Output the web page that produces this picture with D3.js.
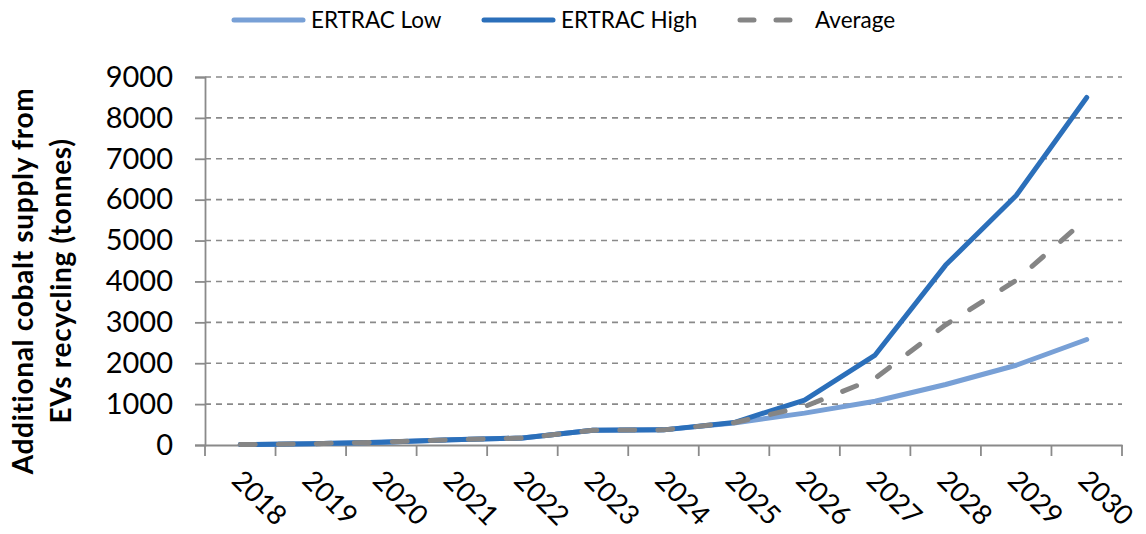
<!DOCTYPE html>
<html><head><meta charset="utf-8">
<script src="https://cdn.jsdelivr.net/npm/d3@7"></script>
<style>
body{margin:0;background:#fff;}
svg{display:block;font-family:Lato,"Open Sans",sans-serif;}
</style></head>
<body><svg id="chart" width="1146" height="534"></svg>
<script>
const years = ["2018","2019","2020","2021","2022","2023","2024","2025","2026","2027","2028","2029","2030"];
const ertracLow  = [10, 30, 70, 130, 170, 360, 370, 540, 780, 1070, 1480, 1950, 2580];
const ertracHigh = [10, 30, 70, 130, 170, 360, 370, 550, 1100, 2200, 4400, 6100, 8500];
const average    = [10, 30, 70, 130, 170, 360, 370, 545, 940, 1630, 2940, 4030, 5540];
const yTicks = [0,1000,2000,3000,4000,5000,6000,7000,8000,9000];
const seriesNames = ["ERTRAC Low","ERTRAC High","Average"];
const colors = {"ERTRAC Low":"#78a0d6","ERTRAC High":"#2b6fba","Average":"#858585"};

const svg = d3.select("#chart");
const L=205, R=1122, T=77, B=445;
const x = d3.scaleBand().domain(years).range([L,R]).padding(0);
const y = d3.scaleLinear().domain([0,9000]).range([B,T]);
const cx = d => x(d)+x.bandwidth()/2;
const axisColor="#8a8a8a";

// gridlines
svg.append("g").selectAll("line").data(yTicks.filter(v=>v>0)).join("line")
  .attr("x1",L).attr("x2",R).attr("y1",d=>y(d)).attr("y2",d=>y(d))
  .attr("stroke",axisColor).attr("stroke-width",1.6).attr("stroke-dasharray","6,5");

// y axis
const ya = svg.append("g").attr("transform",`translate(${L},0)`)
  .call(d3.axisLeft(y).tickValues(yTicks).tickSize(10).tickPadding(22).tickFormat(d3.format("d")));
ya.select(".domain").attr("stroke",axisColor).attr("stroke-width",1.8);
ya.selectAll(".tick line").attr("stroke",axisColor).attr("stroke-width",1.8);
ya.selectAll(".tick text").attr("font-size",29).attr("fill","#000").attr("font-family","Lato");

// x axis
const xa = svg.append("g").attr("transform",`translate(0,${B})`)
  .call(d3.axisBottom(x).tickSize(0).tickFormat(""));
xa.select(".domain").attr("stroke",axisColor).attr("stroke-width",1.8);
const bounds = years.map(d=>x(d)).concat([x.range()[1]]);
svg.append("g").selectAll("line").data(bounds).join("line")
  .attr("x1",d=>d).attr("x2",d=>d).attr("y1",B).attr("y2",B+11)
  .attr("stroke",axisColor).attr("stroke-width",1.8);
svg.append("g").selectAll("text").data(years).join("text")
  .attr("transform",d=>`translate(${cx(d)-10},${B+37}) rotate(45)`)
  .attr("font-size",27.5).attr("fill","#000").text(d=>d);

// lines
const line = d3.line().x((d,i)=>cx(years[i])).y(d=>y(d));
const data = [["ERTRAC Low",ertracLow],["ERTRAC High",ertracHigh],["Average",average]];
data.forEach(([name,vals])=>{
  svg.append("path").datum(vals).attr("d",line).attr("fill","none")
    .attr("stroke",colors[name]).attr("stroke-width",5)
    .attr("stroke-linejoin","round").attr("stroke-linecap","round")
    .attr("stroke-dasharray",name==="Average"?"15,23":null);
});

// legend
const legendX = {"ERTRAC Low":234,"ERTRAC High":484,"Average":740};
seriesNames.forEach(n=>{
  const g = svg.append("g").attr("transform",`translate(${legendX[n]},20)`);
  g.append("line").attr("x1",0).attr("x2",n==="Average"?60:69).attr("y1",0).attr("y2",0)
   .attr("stroke",colors[n]).attr("stroke-width",5).attr("stroke-linecap","round")
   .attr("stroke-dasharray",n==="Average"?"14,22":null);
  g.append("text").attr("x",n==="Average"?75:77).attr("y",8).attr("font-size",22.5).attr("fill","#000").text(n);
});

// y title
const yt = svg.append("text").attr("transform",`translate(0,281) rotate(-90)`)
  .attr("text-anchor","middle").attr("font-weight","bold").attr("font-size",28)
  .attr("letter-spacing",0.7).attr("fill","#000");
yt.append("tspan").attr("x",0).attr("y",33).text("Additional cobalt supply from");
yt.append("tspan").attr("x",0).attr("y",71).text("EVs recycling (tonnes)");
</script></body></html>
